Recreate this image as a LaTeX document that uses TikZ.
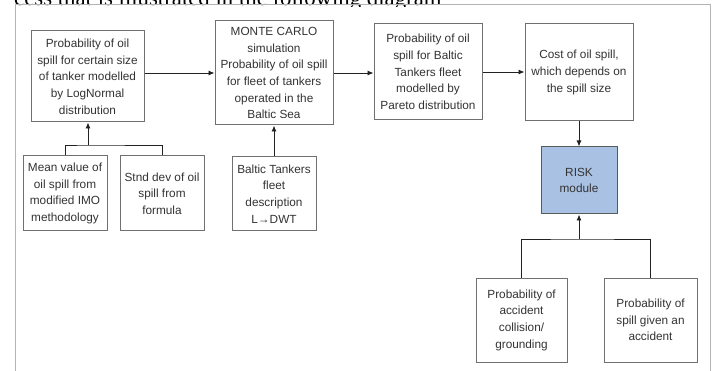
\documentclass[tikz,border=0pt]{standalone}
\usepackage{fontspec}
\setmainfont{Liberation Sans}
\newfontfamily\topserif{Liberation Serif}
\usetikzlibrary{arrows.meta}
\definecolor{boxline}{HTML}{707070}
\definecolor{txt}{HTML}{333333}
\definecolor{conn}{HTML}{222222}
\definecolor{framec}{HTML}{B4B4B4}
\definecolor{riskfill}{HTML}{A9C1E2}
\tikzset{
  box/.style={draw=boxline, line width=1pt, fill=white, rectangle, inner sep=0pt,
    align=center, text=txt, font=\fontsize{11.8}{16.7}\selectfont},
  conline/.style={draw=conn, line width=0.9pt},
  arr/.style={conline, -{Latex[length=6pt,width=5pt]}},
}
\begin{document}
\begin{tikzpicture}[x=1pt,y=-1pt]
\useasboundingbox (0,0) rectangle (717,371);
% cut-off heading text
\begin{scope}
\clip (0,0) rectangle (717,7);
\node[anchor=base west, inner sep=0pt, text=black, font=\topserif\fontsize{22.8}{28}\selectfont] (head) at (14,6) {cess that is illustrated in the following diagram};
\end{scope}
% frame
\draw[framec, line width=1pt] (15,371) -- (15,5) -- (710,5) -- (710,371);
% boxes
\node[box, minimum width=113pt, minimum height=91pt] (b1) at (87.5,76.5)
  {Probability of oil\\spill for certain size\\of tanker modelled\\by LogNormal\\distribution};
\node[box, minimum width=118pt, minimum height=104pt] (b2) at (274,73)
  {MONTE CARLO\\simulation\\Probability of oil spill\\for fleet of tankers\\operated in the\\Baltic Sea};
\node[box, minimum width=108pt, minimum height=96pt] (b3) at (428,72)
  {Probability of oil\\spill for Baltic\\Tankers fleet\\modelled by\\Pareto distribution};
\node[box, minimum width=108pt, minimum height=97pt] (b4) at (579,72.5)
  {Cost of oil spill,\\which depends on\\the spill size};
\node[box, fill=riskfill, draw=boxline!80!black, minimum width=76pt, minimum height=67pt] (risk) at (579,180.5)
  {RISK\\module};
\node[box, minimum width=84pt, minimum height=75pt] (mean) at (65,193.5)
  {Mean value of\\oil spill from\\modified IMO\\methodology};
\node[box, minimum width=84pt, minimum height=75pt] (stnd) at (162,193.5)
  {Stnd dev of oil\\spill from\\formula};
\node[box, minimum width=84pt, minimum height=74pt] (baltic) at (274,194)
  {Baltic Tankers\\fleet\\description\\L→DWT};
\node[box, minimum width=91pt, minimum height=84pt] (acc) at (521.5,320)
  {Probability of\\accident\\collision/\\grounding};
\node[box, minimum width=93pt, minimum height=84pt] (spill) at (650.5,320)
  {Probability of\\spill given an\\accident};
% junction points
\coordinate (j1) at (88,145);
\coordinate (j2) at (579,239);
% connectors
\draw[arr] (b1.east |- b2.west) -- (b2.west);
\draw[arr] (b2.east) -- (b2.east -| b3.west);
\draw[arr] (b3.east) -- (b3.east -| b4.west);
\draw[arr] (b4.south) -- (risk.north);
\draw[conline] (mean.north) |- (j1) -| (stnd.north);
\draw[arr] (j1) -- (j1 |- b1.south);
\draw[arr] (baltic.north) -- (b2.south);
\draw[conline] (acc.north) |- (j2) -| (spill.north);
\draw[arr] (j2) -- (risk.south);
\end{tikzpicture}
\end{document}
